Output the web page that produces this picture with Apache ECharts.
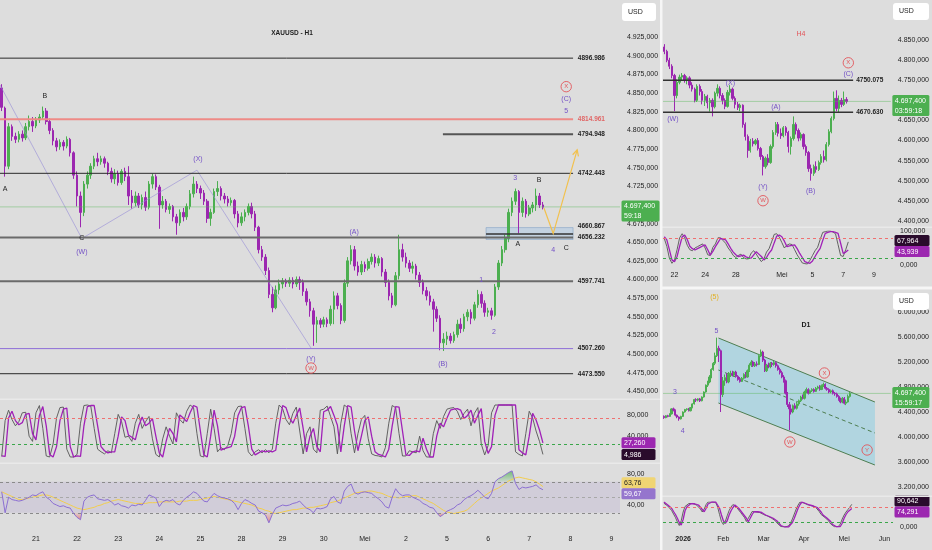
<!DOCTYPE html>
<html><head><meta charset="utf-8">
<script src="https://cdn.jsdelivr.net/npm/echarts@6/dist/echarts.min.js"></script>
<style>html,body{margin:0;padding:0;background:#dddddd;}#c{width:932px;height:550px;}</style>
</head><body><div id="c"></div>
<script>
// ---------------- DATA ----------------
const h1DayLabels = ['21','22','23','24','25','28','29','30','Mei','2','5','6','7','8','9'];
const h4DayLabels = ['22','24','28','Mei','5','7','9'];
const d1MonthLabels = ['2026','Feb','Mar','Apr','Mei','Jun'];

// H1 candles [open, close, low, high]
const h1Candles = [
[4857,4831,4826,4862],[4830,4752,4738,4832],[4752,4805,4748,4810],[4805,4792,4786,4808],[4792,4788,4783,4797],[4788,4795,4784,4799],
[4795,4790,4785,4800],[4790,4805,4787,4810],[4805,4812,4800,4820],[4812,4806,4798,4818],[4806,4814,4803,4818],[4814,4818,4810,4822],
[4818,4826,4815,4832],[4826,4812,4808,4830],[4812,4800,4795,4816],[4800,4786,4780,4803],[4786,4778,4772,4790],[4778,4784,4774,4788],
[4784,4779,4773,4787],[4779,4788,4776,4792],[4788,4770,4765,4790],[4770,4740,4735,4772],[4740,4712,4698,4745],[4712,4690,4670,4718],
[4690,4728,4685,4732],[4728,4740,4722,4745],[4740,4752,4735,4756],[4752,4762,4748,4766],[4762,4758,4752,4770],[4758,4762,4754,4766],
[4762,4756,4750,4765],[4756,4745,4740,4758],[4745,4735,4730,4750],[4735,4742,4728,4748],[4742,4730,4726,4746],[4730,4745,4727,4748],
[4745,4738,4732,4750],[4738,4712,4700,4752],[4712,4703,4695,4720],[4703,4712,4698,4718],[4712,4700,4696,4716],[4700,4710,4694,4714],
[4710,4697,4692,4718],[4697,4728,4694,4732],[4728,4738,4722,4742],[4738,4724,4720,4741],[4724,4700,4668,4727],[4700,4705,4695,4712],
[4705,4694,4690,4708],[4694,4698,4688,4702],[4698,4684,4678,4700],[4684,4676,4660,4688],[4676,4690,4672,4694],[4690,4684,4678,4696],
[4684,4698,4680,4702],[4698,4715,4694,4720],[4715,4728,4710,4738],[4728,4722,4716,4732],[4722,4716,4708,4726],[4716,4705,4700,4720],
[4705,4682,4676,4708],[4682,4690,4672,4695],[4690,4718,4688,4722],[4718,4722,4712,4732],[4722,4712,4706,4725],[4712,4708,4702,4716],
[4708,4703,4698,4712],[4703,4706,4699,4710],[4706,4688,4682,4708],[4688,4676,4670,4692],[4676,4684,4672,4690],[4684,4690,4678,4694],
[4690,4698,4686,4702],[4698,4688,4682,4703],[4688,4670,4665,4692],[4670,4640,4635,4672],[4640,4630,4625,4645],[4630,4612,4606,4634],
[4612,4580,4575,4616],[4580,4562,4556,4590],[4562,4586,4560,4592],[4586,4594,4580,4600],[4594,4598,4588,4602],[4598,4595,4590,4601],
[4595,4599,4590,4603],[4599,4594,4588,4603],[4594,4600,4590,4604],[4600,4596,4586,4604],[4596,4584,4578,4600],[4584,4570,4565,4588],
[4570,4558,4550,4574],[4558,4540,4511,4562],[4540,4545,4515,4550],[4545,4540,4535,4548],[4540,4546,4536,4550],[4546,4541,4536,4549],
[4541,4560,4538,4565],[4560,4578,4540,4584],[4578,4565,4560,4582],[4565,4545,4540,4568],[4545,4595,4542,4600],[4595,4625,4590,4630],
[4625,4640,4620,4646],[4640,4618,4612,4645],[4618,4610,4605,4624],[4610,4620,4606,4625],[4620,4615,4610,4624],[4615,4624,4612,4628],
[4624,4630,4620,4635],[4630,4622,4616,4634],[4622,4628,4618,4632],[4628,4610,4604,4630],[4610,4596,4590,4614],[4596,4578,4572,4600],
[4578,4566,4562,4582],[4566,4605,4564,4610],[4605,4640,4600,4660],[4640,4630,4624,4648],[4630,4622,4616,4636],[4622,4615,4610,4626],
[4615,4618,4608,4624],[4618,4606,4600,4621],[4606,4596,4590,4610],[4596,4585,4580,4600],[4585,4578,4572,4590],[4578,4570,4565,4584],
[4570,4560,4530,4574],[4560,4548,4543,4564],[4548,4515,4505,4552],[4515,4520,4504,4528],[4520,4524,4512,4530],[4524,4518,4514,4528],
[4518,4526,4515,4530],[4526,4540,4522,4546],[4540,4534,4528,4548],[4534,4550,4530,4554],[4550,4556,4544,4560],[4556,4548,4540,4560],
[4548,4566,4545,4570],[4566,4580,4562,4586],[4580,4568,4562,4584],[4568,4556,4550,4572],[4556,4558,4550,4562],[4558,4552,4546,4562],
[4552,4590,4550,4594],[4590,4622,4586,4626],[4622,4640,4618,4645],[4640,4655,4636,4660],[4655,4690,4650,4695],[4690,4705,4685,4710],
[4705,4718,4700,4722],[4718,4690,4662,4720],[4690,4705,4684,4710],[4705,4688,4683,4708],[4688,4696,4685,4700],[4696,4700,4690,4704],
[4700,4712,4692,4722],[4712,4700,4696,4716],[4700,4697,4694,4704]
];
const h1StochSlow = [
2,1,75,88,70,62,66,82,84,45, 33,80,97,60,5,0,20,70,92,94, 20,0,2,1,60,97,99,99,60,20, 12,8,10,10,40,77,70,42,38,33,
60,77,60,65,74,40,8,0,30,55, 45,29,81,75,68,85,99,96,50,4, 0,40,90,60,13,16,18,20,40,80, 95,97,60,15,4,8,12,10,12,10,
13,60,99,95,75,65,80,94,55,10, 40,55,20,10,87,90,97,80,61,10, 60,99,96,50,12,40,70,77,40,10, 5,3,0,15,60,97,96,50,4,3,
10,12,10,36,15,0,0,40,65,58, 75,90,92,93,90,74,80,90,65,80, 93,30,7,20,80,100,100,100,100,100, 100,14,8,4,40,84,71,52,27.26];
const h1StochFast = [
1,70,90,72,60,68,85,86,40,30, 85,99,55,2,0,25,75,95,96,15, 0,0,5,65,99,100,98,55,15,10, 6,12,8,45,82,68,38,40,30,65,
82,55,68,78,35,5,0,35,58,40, 25,85,72,65,88,100,95,45,2,0, 45,92,55,10,18,14,22,45,85,97, 98,55,10,2,10,14,8,14,8,15,
65,100,93,72,62,84,96,50,6,45, 58,15,8,90,92,98,78,58,6,65, 100,95,45,8,45,72,80,35,6,3, 2,0,18,65,99,95,45,2,2,12,
10,8,40,12,0,0,45,70,55,78, 92,94,95,88,72,84,92,60,84,95, 25,4,22,85,100,100,100,100,100,100, 10,5,2,45,88,75,50,30,4.986];
const h1Rsi = [
57,30,50,47,46,45,46,48,50,53, 52,55,57,50,47,42,40,38,39,37, 36,29,24,21,45,50,52,53,48,47, 46,47,44,40,42,39,38,36,40,39,
41,40,46,53,51,49,38,44,46,45, 47,42,40,46,50,53,57,55,50,45, 44,50,55,52,50,49,48,46,42,34, 42,47,45,42,40,32,30,27,17,28,
36,38,40,39,40,42,43,45,40,36, 34,30,36,35,36,38,48,51,44,42, 58,64,67,56,54,56,57,56,55,51, 48,44,38,36,50,61,55,52,53,53,
50,48,46,42,40,37,36,30,25,28, 32,34,36,40,42,47,50,52,55,59, 55,50,48,55,70,74,76,79,82,84, 68,60,63,62,63,64,66,62,59.67];
const h1RsiMa = [
57,55,53,51,49,47,47,48,49,50, 51,52,53,53,52,50,48,46,44,42, 40,38,36,35,34,35,36,37,39,40, 42,43,45,46,47,46,45,44,43,42,
42,42,42,43,43,43,44,44,44,44, 44,44,45,45,45,46,46,46,47,48, 49,50,51,50,49,48,47,46,45,44, 43,42,41,40,38,36,35,33,32,30,
29,30,31,32,33,34,34,35,36,36, 37,37,38,39,40,41,43,44,45,47, 49,51,53,55,56,57,57,58,58,57, 56,55,53,51,50,50,49,50,51,51,
52,52,50,48,46,44,42,39,36,33, 31,30,29,30,31,32,34,38,42,46, 49,52,55,58,60,62,65,68,71,73, 75,76,75,74,73,72,70,67,63.76];
const h1Levels = [4896.986, 4814.961, 4794.948, 4742.443, 4660.867, 4656.232, 4597.741, 4507.260, 4473.550];
const lastPrice = 4697.4;

const h4Candles = [
[4833,4822,4815,4840],[4822,4800,4795,4826],[4800,4785,4778,4806],[4785,4762,4755,4790],[4762,4712,4673,4766],[4712,4745,4705,4752],
[4745,4758,4740,4764],[4758,4762,4750,4768],[4762,4750,4744,4766],[4750,4756,4740,4760],[4756,4738,4730,4760],[4738,4728,4722,4745],
[4728,4700,4695,4732],[4700,4735,4696,4740],[4735,4722,4712,4740],[4722,4700,4690,4728],[4700,4710,4686,4716],[4710,4694,4680,4714],
[4694,4700,4672,4706],[4700,4684,4660,4705],[4684,4718,4680,4722],[4718,4730,4710,4740],[4730,4712,4705,4735],[4712,4700,4690,4718],
[4700,4685,4678,4705],[4685,4720,4682,4726],[4720,4728,4712,4738],[4728,4705,4700,4732],[4705,4690,4680,4710],[4690,4682,4676,4696],
[4682,4688,4673,4692],[4688,4640,4632,4690],[4640,4610,4600,4645],[4610,4575,4557,4615],[4575,4598,4570,4604],[4598,4592,4585,4606],
[4592,4600,4588,4604],[4600,4580,4575,4606],[4580,4560,4552,4584],[4560,4535,4513,4564],[4535,4556,4530,4560],[4556,4545,4538,4566],
[4545,4585,4542,4590],[4585,4620,4580,4626],[4620,4640,4614,4646],[4640,4618,4610,4646],[4618,4612,4604,4630],[4612,4632,4608,4636],
[4632,4620,4612,4636],[4620,4585,4570,4624],[4585,4605,4565,4610],[4605,4640,4600,4660],[4640,4625,4615,4645],[4625,4606,4598,4630],
[4606,4615,4600,4620],[4615,4585,4578,4618],[4585,4570,4562,4590],[4570,4530,4522,4574],[4530,4518,4500,4540],[4518,4535,4512,4540],
[4535,4528,4520,4548],[4528,4545,4524,4550],[4545,4560,4540,4566],[4560,4552,4545,4575],[4552,4590,4548,4596],[4590,4622,4585,4628],
[4622,4655,4618,4660],[4655,4705,4650,4722],[4705,4680,4673,4725],[4680,4700,4670,4712],[4700,4690,4683,4706],[4690,4702,4686,4722],
[4702,4697,4692,4708]
];
const h4StochSlow = [
83,74,45,15,10,25,55,83,88,75, 55,48,44,48,52,56,59,45,29,40, 54,66,78,76,74,62,49,38,30,25, 27,29,24,21,20,30,39,32,25,15,
22,35,44,65,85,88,83,70,54,56, 58,59,48,34,22,10,7,5,12,25, 38,49,72,93,96,98,98,96,93,64, 34,38,43.939];
const h4StochFast = [
78,55,20,5,15,45,80,92,80,58, 45,42,50,54,58,62,50,30,28,52, 62,80,80,72,64,50,40,28,22,28, 32,22,18,18,35,42,32,20,10,18,
38,48,68,90,92,82,66,50,58,62, 60,45,30,18,6,4,3,14,28,42, 52,75,96,98,100,100,97,92,60,28, 25,45,67.964];
const h4Levels = [4750.075, 4670.630];

const d1Candles = [
[4330,4310,4290,4345],[4310,4340,4300,4350],[4340,4330,4315,4355],[4330,4370,4320,4380],[4370,4450,4360,4460],[4450,4430,4410,4470],
[4430,4350,4330,4440],[4350,4320,4300,4360],[4320,4290,4260,4330],[4290,4330,4280,4340],[4330,4400,4320,4410],[4400,4440,4390,4450],
[4440,4450,4420,4460],[4450,4420,4410,4465],[4420,4470,4410,4480],[4470,4530,4460,4540],[4530,4600,4520,4610],[4600,4590,4560,4620],
[4590,4610,4570,4620],[4610,4580,4560,4625],[4580,4640,4570,4650],[4640,4720,4630,4730],[4720,4830,4710,4840],[4830,4880,4800,4900],
[4880,4960,4860,4990],[4960,5080,4940,5100],[5080,5180,5060,5200],[5180,5300,5150,5350],[5300,5420,5280,5590],[5420,5380,5200,5460],
[5380,4680,4400,5400],[4680,4900,4640,4960],[4900,4950,4820,5000],[4950,4880,4860,5020],[4880,5000,4860,5040],[5000,5020,4960,5060],
[5020,4990,4970,5060],[4990,5040,4960,5050],[5040,4970,4950,5060],[4970,4920,4900,4990],[4920,4890,4870,4960],[4890,4940,4880,4960],
[4940,5000,4920,5020],[5000,4960,4940,5040],[4960,5060,4950,5080],[5060,5150,5040,5180],[5150,5200,5120,5230],[5200,5140,5120,5220],
[5140,5170,5120,5200],[5170,5160,5130,5210],[5160,5300,5150,5330],[5300,5360,5280,5400],[5360,5230,5200,5380],[5230,5060,5040,5250],
[5060,5150,5040,5170],[5150,5120,5100,5190],[5120,5180,5100,5200],[5180,5160,5120,5200],[5160,5190,5140,5220],[5190,5140,5110,5210],
[5140,5080,5060,5160],[5080,5030,5000,5110],[5030,4960,4940,5060],[4960,4900,4870,4990],[4900,4700,4680,4920],[4700,4520,4480,4720],
[4520,4450,4110,4560],[4450,4400,4360,4520],[4400,4500,4380,4520],[4500,4460,4440,4540],[4460,4530,4440,4560],[4530,4580,4500,4600],
[4580,4640,4560,4660],[4640,4620,4600,4680],[4620,4720,4600,4740],[4720,4760,4700,4790],[4760,4700,4680,4780],[4700,4740,4690,4760],
[4740,4760,4720,4780],[4760,4730,4710,4780],[4730,4780,4720,4800],[4780,4800,4760,4820],[4800,4760,4740,4830],[4760,4820,4750,4840],
[4820,4840,4800,4870],[4840,4780,4760,4860],[4780,4760,4740,4800],[4760,4720,4700,4780],[4720,4740,4700,4760],[4740,4700,4680,4760],
[4700,4690,4660,4720],[4690,4650,4630,4710],[4650,4600,4580,4670],[4600,4560,4540,4630],[4560,4620,4540,4640],[4620,4540,4520,4640],
[4540,4560,4510,4600],[4560,4650,4550,4680],[4650,4697,4630,4720]
];
const d1StochSlow = [
100,95,88,82,75,62,50,35,18,8, 30,65,81,88,93,95,93,90,88,80, 70,61,75,92,100,100,100,100,98,75, 48,25,15,25,48,65,78,88,84,75,
65,55,48,35,21,35,50,61,62,61, 61,58,55,48,45,42,38,35,30,24, 15,6,0,0,0,0,5,18,35,55, 75,90,100,98,94,90,88,86,84,82,
78,70,60,48,42,36,30,22,10,2, 1,1,2,15,35,50,61,68,74.291];
const d1StochFast = [
95,90,84,78,66,52,38,20,6,25, 60,82,90,94,96,94,91,88,82,72, 60,72,90,100,100,100,100,98,80,50, 22,10,22,45,66,80,90,86,78,68,
58,50,38,22,30,48,62,66,60,64, 58,56,50,46,44,40,36,32,26,16, 8,2,0,0,0,4,15,32,52,72, 88,100,100,96,92,89,87,85,83,80,
72,62,50,44,38,32,24,12,4,1, 0,2,12,32,48,60,70,80,90.642];

// ---------------- STYLE / LAYOUT ----------------
const BG = '#dddddd';
const UP = '#4caf50', DN = '#9c27b0';
const FF = '"Liberation Sans", Arial, sans-serif';
const font = (s, b) => (b ? 'bold ' : '') + s + 'px ' + FF;
const WAVE = '#7452c6', RED = '#e2555a', INK = '#1e1e1e';

function fmtNum(v, d) {
  const s = Math.abs(v).toFixed(d);
  let [ip, dp] = s.split('.');
  ip = ip.replace(/\B(?=(\d{3})+(?!\d))/g, '.');
  return (v < 0 ? '-' : '') + ip + (dp ? ',' + dp : '');
}
// fractional category position through the axis scale
function fx(api, s, p) {
  const i = Math.floor(s), f = s - i;
  const a = api.coord([i, p]), b = api.coord([i + 1, p]);
  return [a[0] + (b[0] - a[0]) * f, a[1]];
}
function shapeSeries(xi, yi, shapes, z) {
  return {
    type: 'custom', xAxisIndex: xi, yAxisIndex: yi, silent: true, clip: false, z: z, animation: false,
    data: shapes.map((_, i) => [i, 0]),
    renderItem(params, api) {
      const g = shapes[params.dataIndex];
      const pts = g.pts.map(q => fx(api, q[0], q[1]));
      const ch = [];
      if (g.poly) {
        ch.push({type: 'polygon', shape: {points: pts}, style: Object.assign({}, g.st)});
      } else {
        ch.push({type: 'polyline', shape: {points: pts}, style: Object.assign({fill: null}, g.st)});
      }
      if (g.arrow) {
        const a = pts[pts.length - 2], b = pts[pts.length - 1];
        const ang = Math.atan2(b[1] - a[1], b[0] - a[0]), L = 6, W = 3;
        const c = Math.cos(ang), s = Math.sin(ang);
        ch.push({type: 'polyline', shape: {points: [[b[0] - L * c + W * s, b[1] - L * s - W * c], b, [b[0] - L * c - W * s, b[1] - L * s + W * c]]},
          style: Object.assign({fill: null}, g.st)});
      }
      return {type: 'group', children: ch};
    }
  };
}
function textSeries(xi, yi, items, z) {
  return {
    type: 'custom', xAxisIndex: xi, yAxisIndex: yi, silent: true, clip: false, z: z || 12, animation: false,
    data: items.map((_, i) => [i, 0]),
    renderItem(params, api) {
      const it = items[params.dataIndex];
      const p = fx(api, it.s, it.p);
      const ch = [];
      if (it.circle) ch.push({type: 'circle', shape: {cx: p[0], cy: p[1], r: 5.2}, style: {fill: 'none', stroke: it.c, lineWidth: 0.9}});
      const al = it.left ? 'left' : 'center';
      ch.push({type: 'text', x: p[0], y: p[1], style: {text: it.t, fill: it.c, font: font(it.size || 7, it.bold),
        align: al, textAlign: al, verticalAlign: 'middle', textVerticalAlign: 'middle'}});
      return {type: 'group', children: ch};
    }
  };
}
function tagSeries(xi, yi, tags, w) {
  return {
    type: 'custom', xAxisIndex: xi, yAxisIndex: yi, silent: true, clip: false, z: 30, animation: false,
    data: [[0, 0]],
    renderItem(params, api) {
      const cs = params.coordSys;
      const x0 = cs.x + cs.width + 1.5;
      const items = tags.map(t => ({t: t, y: api.coord([0, t.v])[1]}));
      items.sort((a, b) => a.y - b.y);
      for (let k = 0; k < 3; k++) for (let i = 1; i < items.length; i++) {
        if (items[i].y - items[i - 1].y < 11) { const m = (items[i].y + items[i - 1].y) / 2; items[i - 1].y = m - 5.5; items[i].y = m + 5.5; }
      }
      const ch = [];
      items.forEach(it => {
        const n = it.t.lines.length, h = n === 1 ? 11 : 21, top = n === 1 ? it.y - 5.5 : it.y - 6.5;
        ch.push({type: 'rect', shape: {x: x0, y: top, width: w, height: h, r: 1.5}, style: {fill: it.t.bg}});
        it.t.lines.forEach((s, j) => ch.push({type: 'text', x: x0 + 2.5, y: top + 5.7 + j * 10,
          style: {text: s, fill: it.t.fg, font: font(7), align: 'left', textAlign: 'left', verticalAlign: 'middle', textVerticalAlign: 'middle'}}));
      });
      return {type: 'group', children: ch};
    }
  };
}
function fills(vals, hi, lo) {
  const out = [];
  const run = (test, lvl) => {
    let cur = null;
    for (let i = 0; i < vals.length; i++) {
      const v = vals[i];
      if (test(v)) {
        if (!cur) { cur = []; if (i > 0) { const f = (lvl - vals[i - 1]) / (v - vals[i - 1]); cur.push([i - 1 + f, lvl]); } else cur.push([i, lvl]); }
        cur.push([i, v]);
      } else if (cur) { const f = (vals[i - 1] - lvl) / (vals[i - 1] - v); cur.push([i - 1 + f, lvl]); out.push({pts: cur, lvl: lvl}); cur = null; }
    }
    if (cur) { cur.push([vals.length - 1, lvl]); out.push({pts: cur, lvl: lvl}); }
  };
  run(v => v > hi, hi); run(v => v < lo, lo);
  return out.map(f => ({poly: true, pts: f.pts, st: {fill: f.lvl === hi
    ? new echarts.graphic.LinearGradient(0, 0, 0, 1, [{offset: 0, color: 'rgba(76,175,80,0.75)'}, {offset: 1, color: 'rgba(76,175,80,0.12)'}])
    : new echarts.graphic.LinearGradient(0, 0, 0, 1, [{offset: 0, color: 'rgba(230,80,80,0.1)'}, {offset: 1, color: 'rgba(230,80,80,0.6)'}])}}));
}
function catAxis(grid, n, slots, labels, show, margin) {
  const map = {}; slots.forEach((s, i) => map[s] = labels[i]);
  return {type: 'category', gridIndex: grid, data: Array.from({length: n}, (_, i) => String(i)), boundaryGap: true,
    axisLine: {show: false}, axisTick: {show: false}, splitLine: {show: false},
    axisLabel: {show: show, margin: margin, fontSize: 7, color: INK, fontFamily: FF,
      interval: (i) => map[i] !== undefined,
      formatter: (v, i) => { const t = map[i] || ''; return /^\d{4}$/.test(t) ? '{b|' + t + '}' : t; },
      rich: {b: {fontWeight: 'bold', fontSize: 7, color: INK, fontFamily: FF}}}};
}
function valAxis(grid, min, max, interval, showFn, dec) {
  return {type: 'value', gridIndex: grid, position: 'right', min, max, interval,
    splitLine: {show: false}, axisLine: {show: false}, axisTick: {show: false},
    axisLabel: {margin: 7, fontSize: 7, color: INK, fontFamily: FF, showMinLabel: true, showMaxLabel: true,
      formatter: v => showFn(v) ? fmtNum(v, dec) : ''}};
}
function candle(xi, yi, data, bw) {
  return {type: 'candlestick', xAxisIndex: xi, yAxisIndex: yi, data: data, barWidth: bw, z: 6, animation: false,
    itemStyle: {color: UP, color0: DN, borderColor: UP, borderColor0: DN, borderWidth: 1}};
}
function line(xi, yi, data, color, w, z, extra) {
  return Object.assign({type: 'line', xAxisIndex: xi, yAxisIndex: yi, data: data, symbol: 'none', z: z, animation: false, silent: true,
    lineStyle: {color: color, width: w}}, extra || {});
}
function bands(hiV, loV, hiC, loC) {
  return {markLine: {silent: true, symbol: 'none', label: {show: false}, animation: false,
    data: [{yAxis: hiV, lineStyle: {color: hiC, type: [3, 3], width: 1}}, {yAxis: loV, lineStyle: {color: loC, type: [3, 3], width: 1}}]}};
}

// slot layout
const H1_SLOTS = 181, H1_FIRST = 10, H1_STEP = 12;
const h1LabelSlots = h1DayLabels.map((_, k) => H1_FIRST + k * H1_STEP);
const H4_SLOTS = 90, h4LabelSlots = [4, 16, 28, 46, 58, 70, 82];
const D1_SLOTS = 120, d1LabelSlots = [10, 31, 52, 73, 94, 115];

// ---------------- ANNOTATIONS (data coordinates: slot, price) ----------------
const LVL_END = 166.8, LVL_TXT = 168.2;
const h1Shapes = [
  {pts: [[141.4, 4653.7], [LVL_END, 4653.7], [LVL_END, 4669.6], [141.4, 4669.6]], poly: true, st: {fill: 'rgba(170,200,230,0.5)', stroke: 'rgba(130,160,195,0.7)', lineWidth: 0.8}},
  {pts: [[-0.5, 4861], [23.4, 4655], [57, 4746.7], [90.3, 4508]], st: {stroke: 'rgba(150,140,215,0.6)', lineWidth: 1}},
  {pts: [[-0.5, lastPrice], [180.5, lastPrice]], st: {stroke: 'rgba(90,185,90,0.55)', lineWidth: 0.8}},
  {pts: [[-0.5, h1Levels[0]], [LVL_END, h1Levels[0]]], st: {stroke: '#2a2a2a', lineWidth: 1}},
  {pts: [[-0.5, h1Levels[1]], [LVL_END, h1Levels[1]]], st: {stroke: '#ee8a86', lineWidth: 2}},
  {pts: [[128.8, h1Levels[2]], [LVL_END, h1Levels[2]]], st: {stroke: '#555', lineWidth: 2}},
  {pts: [[-0.5, h1Levels[3]], [LVL_END, h1Levels[3]]], st: {stroke: '#2a2a2a', lineWidth: 1}},
  {pts: [[141.4, h1Levels[4]], [LVL_END, h1Levels[4]]], st: {stroke: '#333', lineWidth: 1.5}},
  {pts: [[-0.5, h1Levels[5]], [LVL_END, h1Levels[5]]], st: {stroke: '#6a6a6a', lineWidth: 2}},
  {pts: [[-0.5, h1Levels[6]], [LVL_END, h1Levels[6]]], st: {stroke: '#6a6a6a', lineWidth: 2}},
  {pts: [[-0.5, h1Levels[7]], [LVL_END, h1Levels[7]]], st: {stroke: '#8f6fd8', lineWidth: 1}},
  {pts: [[-0.5, h1Levels[8]], [LVL_END, h1Levels[8]]], st: {stroke: '#2a2a2a', lineWidth: 1}},
  {pts: [[158.3, 4696], [161, 4661.6], [168, 4774]], arrow: true, st: {stroke: '#f2c14e', lineWidth: 1.2}}
];
// the 4660.867 label sits just above its line, clear of the 4656.232 label
const h1LevelTextPrice = h1Levels.map((v, i) => i === 4 ? 4672 : v);
const h1Texts = [
  {s: 1, p: 4721, t: 'A', c: INK}, {s: 12.6, p: 4845.5, t: 'B', c: INK}, {s: 23.4, p: 4655, t: 'C', c: INK},
  {s: 23.4, p: 4636.5, t: '(W)', c: WAVE}, {s: 57.3, p: 4761, t: '(X)', c: WAVE}, {s: 90.3, p: 4493.6, t: '(Y)', c: WAVE},
  {s: 90.3, p: 4481.2, t: 'W', c: RED, circle: true, size: 6}, {s: 102.9, p: 4664, t: '(A)', c: WAVE}, {s: 128.8, p: 4487, t: '(B)', c: WAVE},
  {s: 140, p: 4599.5, t: '1', c: WAVE}, {s: 143.7, p: 4529.4, t: '2', c: WAVE}, {s: 149.9, p: 4735.7, t: '3', c: WAVE},
  {s: 156.9, p: 4733, t: 'B', c: INK}, {s: 150.7, p: 4647, t: 'A', c: INK}, {s: 161, p: 4639, t: '4', c: WAVE},
  {s: 164.8, p: 4641.8, t: 'C', c: INK}, {s: 164.8, p: 4858.7, t: 'X', c: RED, circle: true, size: 6},
  {s: 164.8, p: 4841.5, t: '(C)', c: WAVE}, {s: 164.8, p: 4825.7, t: '5', c: WAVE}
].concat(h1Levels.map((v, i) => ({s: LVL_TXT, p: h1LevelTextPrice[i], t: v.toFixed(3), c: i === 1 ? '#e06666' : INK, left: true, bold: true, size: 6.5})));

const H4_END = 74.6;
const h4Shapes = [
  {pts: [[-0.5, lastPrice], [89.5, lastPrice]], st: {stroke: 'rgba(90,185,90,0.55)', lineWidth: 0.8}},
  {pts: [[-0.5, h4Levels[0]], [H4_END, h4Levels[0]]], st: {stroke: '#333', lineWidth: 1.5}},
  {pts: [[-0.5, h4Levels[1]], [H4_END, h4Levels[1]]], st: {stroke: '#333', lineWidth: 1.5}}
];
const h4Texts = [
  {s: 72.7, p: 4793.6, t: 'X', c: RED, circle: true, size: 6}, {s: 72.7, p: 4766.5, t: '(C)', c: WAVE},
  {s: 26.1, p: 4744.3, t: '(X)', c: WAVE}, {s: 44.1, p: 4682.8, t: '(A)', c: WAVE}, {s: 3.4, p: 4653.2, t: '(W)', c: WAVE},
  {s: 39, p: 4483, t: '(Y)', c: WAVE}, {s: 39, p: 4450, t: 'W', c: RED, circle: true, size: 6}, {s: 57.8, p: 4473.4, t: '(B)', c: WAVE}
].concat(h4Levels.map(v => ({s: 75.8, p: v, t: v.toFixed(3), c: INK, left: true, bold: true, size: 6.5})));

const d1Shapes = [
  {pts: [[28.7, 5584], [111.1, 4560], [111.1, 3552], [28.7, 4544]], poly: true, st: {fill: 'rgba(140,205,225,0.55)'}},
  {pts: [[28.7, 5584], [111.1, 4560]], st: {stroke: '#4e7e50', lineWidth: 1}},
  {pts: [[28.7, 4544], [111.1, 3552]], st: {stroke: '#4e7e50', lineWidth: 1}},
  {pts: [[28.7, 5072], [111.1, 4064]], st: {stroke: '#4e7e50', lineWidth: 1, lineDash: [4, 3]}},
  {pts: [[-0.5, lastPrice], [119.5, lastPrice]], st: {stroke: 'rgba(90,185,90,0.55)', lineWidth: 0.8}}
];
const d1Texts = [
  {s: 26.6, p: 6240, t: '(5)', c: '#e0b020'}, {s: 27.7, p: 5696, t: '5', c: WAVE}, {s: 5.8, p: 4720, t: '3', c: WAVE},
  {s: 9.9, p: 4096, t: '4', c: WAVE}, {s: 84.5, p: 5024, t: 'X', c: RED, circle: true, size: 6},
  {s: 66.3, p: 3920, t: 'W', c: RED, circle: true, size: 6}, {s: 107, p: 3792, t: 'Y', c: RED, circle: true, size: 6}
];

const priceTag = (t2) => ({v: lastPrice, lines: [fmtNum(lastPrice, 3), t2], bg: '#4caf50', fg: '#ffffff'});
const DARK = '#2a0b2c', PURT = '#9c27b0';

// ---------------- OPTION ----------------
const option = {
  backgroundColor: BG, animation: false,
  grid: [
    {left: 0, top: -5.9, width: 620, height: 415.8},
    {left: 0, top: 394.6, width: 620, height: 72.8},
    {left: 0, top: 458.5, width: 620, height: 77.5},
    {left: 663, top: -2.5, width: 230, height: 223.3},
    {left: 663, top: 231, width: 230, height: 34},
    {left: 663, top: 287, width: 230, height: 200},
    {left: 663, top: 502, width: 230, height: 25}
  ],
  xAxis: [
    catAxis(0, H1_SLOTS, h1LabelSlots, h1DayLabels, false, 0),
    catAxis(1, H1_SLOTS, h1LabelSlots, h1DayLabels, false, 0),
    catAxis(2, H1_SLOTS, h1LabelSlots, h1DayLabels, true, 0),
    catAxis(3, H4_SLOTS, h4LabelSlots, h4DayLabels, false, 0),
    catAxis(4, H4_SLOTS, h4LabelSlots, h4DayLabels, true, 7),
    catAxis(5, D1_SLOTS, d1LabelSlots, d1MonthLabels, false, 0),
    catAxis(6, D1_SLOTS, d1LabelSlots, d1MonthLabels, true, 9)
  ],
  yAxis: [
    valAxis(0, 4425, 4975, 25, v => v >= 4450 && v <= 4925, 3),
    valAxis(1, -20, 120, 20, v => v === 40 || v === 80, 3),
    valAxis(2, 0, 100, 20, v => v === 40 || v === 80, 2),
    valAxis(3, 4400, 4950, 50, v => v <= 4850, 3),
    valAxis(4, 0, 100, 100, v => true, 3),
    valAxis(5, 3200, 6400, 400, v => v <= 6000, 3),
    valAxis(6, 0, 100, 100, v => true, 3)
  ],
  series: [
    // H1
    shapeSeries(0, 0, h1Shapes.slice(0, 1), 3),
    shapeSeries(0, 0, h1Shapes.slice(1), 8),
    candle(0, 0, h1Candles, '60%'),
    textSeries(0, 0, h1Texts),
    tagSeries(0, 0, [priceTag('59:18')], 38),
    line(1, 1, h1StochFast, '#555555', 0.9, 3, bands(75, 25, '#ef7070', '#3aa64a')),
    line(1, 1, h1StochSlow, '#a020b8', 1.3, 4),
    tagSeries(1, 1, [{v: 27.26, lines: ['27,260'], bg: PURT, fg: '#fff'}, {v: 4.986, lines: ['4,986'], bg: DARK, fg: '#fff'}], 34),
    line(2, 2, h1Rsi, '#8c6fd3', 1, 5, {markArea: {silent: true, itemStyle: {color: 'rgba(120,90,190,0.12)'}, data: [[{yAxis: 30}, {yAxis: 70}]]},
      markLine: {silent: true, symbol: 'none', label: {show: false}, data: [
        {yAxis: 70, lineStyle: {color: '#8a8a8a', type: [3, 3], width: 1}},
        {yAxis: 50, lineStyle: {color: '#a8a8a8', type: [3, 3], width: 1}},
        {yAxis: 30, lineStyle: {color: '#8a8a8a', type: [3, 3], width: 1}}]}}),
    line(2, 2, h1RsiMa, '#f3cd4c', 1, 4),
    shapeSeries(2, 2, fills(h1Rsi, 70, 30), 3),
    tagSeries(2, 2, [{v: 63.76, lines: ['63,76'], bg: '#f0d574', fg: '#222'}, {v: 59.67, lines: ['59,67'], bg: '#9575cd', fg: '#fff'}], 34),
    // H4
    shapeSeries(3, 3, h4Shapes, 8),
    candle(3, 3, h4Candles, '70%'),
    textSeries(3, 3, h4Texts),
    tagSeries(3, 3, [priceTag('03:59:18')], 37),
    line(4, 4, h4StochFast, '#555555', 0.9, 3, bands(80, 20, '#ef7070', '#3aa64a')),
    line(4, 4, h4StochSlow, '#a020b8', 1.3, 4),
    tagSeries(4, 4, [{v: 67.964, lines: ['67,964'], bg: DARK, fg: '#fff'}, {v: 43.939, lines: ['43,939'], bg: PURT, fg: '#fff'}], 35),
    // D1
    shapeSeries(5, 5, d1Shapes.slice(0, 1), 2),
    shapeSeries(5, 5, d1Shapes.slice(1), 4),
    candle(5, 5, d1Candles, '85%'),
    textSeries(5, 5, d1Texts),
    tagSeries(5, 5, [priceTag('15:59:17')], 37),
    line(6, 6, d1StochFast, '#555555', 0.9, 3, bands(80, 20, '#ef7070', '#3aa64a')),
    line(6, 6, d1StochSlow, '#a020b8', 1.3, 4),
    tagSeries(6, 6, [{v: 90.642, lines: ['90,642'], bg: DARK, fg: '#fff'}, {v: 74.291, lines: ['74,291'], bg: PURT, fg: '#fff'}], 35)
  ],
  graphic: [
    {type: 'rect', z: 50, shape: {x: 0, y: 398.5, width: 660, height: 1.5}, style: {fill: '#e9e9e9'}},
    {type: 'rect', z: 50, shape: {x: 0, y: 462.5, width: 660, height: 1.5}, style: {fill: '#e9e9e9'}},
    {type: 'rect', z: 50, shape: {x: 662, y: 226.5, width: 270, height: 1.5}, style: {fill: '#e9e9e9'}},
    {type: 'rect', z: 50, shape: {x: 662, y: 495.5, width: 270, height: 1.5}, style: {fill: '#e9e9e9'}},
    {type: 'rect', z: 60, shape: {x: 660, y: 0, width: 2.5, height: 550}, style: {fill: '#f6f6f6'}},
    {type: 'rect', z: 60, shape: {x: 661, y: 286.5, width: 271, height: 3}, style: {fill: '#f6f6f6'}},
    {type: 'rect', z: 60, shape: {x: 622, y: 3, width: 34, height: 18, r: 3}, style: {fill: '#ffffff'}},
    {type: 'text', z: 61, x: 628, y: 12, style: {text: 'USD', font: font(7), fill: INK, verticalAlign: 'middle', textVerticalAlign: 'middle'}},
    {type: 'rect', z: 60, shape: {x: 893, y: 3, width: 36, height: 17, r: 3}, style: {fill: '#ffffff'}},
    {type: 'text', z: 61, x: 899, y: 11.5, style: {text: 'USD', font: font(7), fill: INK, verticalAlign: 'middle', textVerticalAlign: 'middle'}},
    {type: 'rect', z: 60, shape: {x: 893, y: 293, width: 36, height: 17, r: 3}, style: {fill: '#ffffff'}},
    {type: 'text', z: 61, x: 899, y: 301.5, style: {text: 'USD', font: font(7), fill: INK, verticalAlign: 'middle', textVerticalAlign: 'middle'}},
    {type: 'text', z: 61, x: 292, y: 33, style: {text: 'XAUUSD - H1', font: font(6.5, true), fill: INK, align: 'center', textAlign: 'center', verticalAlign: 'middle', textVerticalAlign: 'middle'}},
    {type: 'text', z: 61, x: 801, y: 34, style: {text: 'H4', font: font(7), fill: RED, align: 'center', textAlign: 'center', verticalAlign: 'middle', textVerticalAlign: 'middle'}},
    {type: 'text', z: 61, x: 806, y: 325, style: {text: 'D1', font: font(7, true), fill: INK, align: 'center', textAlign: 'center', verticalAlign: 'middle', textVerticalAlign: 'middle'}}
  ]
};
const chart = echarts.init(document.getElementById('c'), null, {renderer: 'canvas', width: 932, height: 550});
chart.setOption(option);
</script></body></html>
